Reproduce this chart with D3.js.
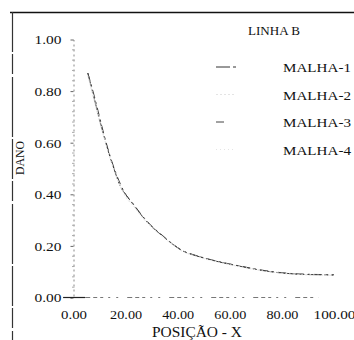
<!DOCTYPE html>
<html><head><meta charset="utf-8">
<script src="https://cdn.jsdelivr.net/npm/d3@7"></script>
<style>
html,body{margin:0;padding:0;background:#fff;}
svg text{font-family:"Liberation Serif","DejaVu Serif",serif;fill:#111;}
</style></head>
<body><svg id="c" width="354" height="340"></svg>
<script>
const xPos   = [5.5, 8, 10, 12, 14, 16, 18, 20, 23, 26, 30, 34, 38, 42, 46, 50, 55, 60, 65, 70, 75, 80, 85, 90, 95, 100];
const malha1 = [0.87, 0.77, 0.69, 0.615, 0.545, 0.485, 0.43, 0.40, 0.36, 0.32, 0.275, 0.24, 0.207, 0.180, 0.165, 0.153, 0.140, 0.129, 0.119, 0.109, 0.101, 0.095, 0.091, 0.089, 0.088, 0.087];
const malha2 = [0.86, 0.76, 0.68, 0.610, 0.540, 0.480, 0.43, 0.39, 0.355, 0.315, 0.272, 0.237, 0.205, 0.178, 0.163, 0.151, 0.138, 0.127, 0.117, 0.108, 0.100, 0.094, 0.090, 0.088, 0.087, 0.086];
const malha3 = [0.87, 0.78, 0.70, 0.620, 0.550, 0.490, 0.44, 0.40, 0.362, 0.322, 0.277, 0.242, 0.208, 0.181, 0.166, 0.154, 0.141, 0.130, 0.120, 0.110, 0.102, 0.096, 0.092, 0.090, 0.089, 0.088];
const malha4 = [0.86, 0.77, 0.69, 0.612, 0.542, 0.482, 0.43, 0.395, 0.357, 0.318, 0.273, 0.238, 0.206, 0.179, 0.164, 0.152, 0.139, 0.128, 0.118, 0.108, 0.100, 0.094, 0.090, 0.088, 0.087, 0.086];
const seriesNames = ["MALHA-1", "MALHA-2", "MALHA-3", "MALHA-4"];
const xTicks = [0, 20, 40, 60, 80, 100];
const yTicks = [0, 0.2, 0.4, 0.6, 0.8, 1.0];
const legendTitle = "LINHA  B";
const xTitle = "POSIÇÃO - X";
const yTitle = "DANO";

const svg = d3.select("#c");
const x = d3.scaleLinear().domain([0, 100]).range([73.5, 334]);
const y = d3.scaleLinear().domain([0, 1]).range([297.5, 39.5]);

// frame (scan border)
svg.append("line").attr("x1", 10).attr("x2", 354).attr("y1", 12.5).attr("y2", 12.5).attr("stroke", "#111").attr("stroke-width", 1.5);
svg.append("line").attr("x1", 12.5).attr("x2", 12.5).attr("y1", 12).attr("y2", 340).attr("stroke", "#333").attr("stroke-width", 1.2).attr("stroke-dasharray", "40,2,20,3,60,2");

// y axis
const ya = svg.append("g").attr("transform", "translate(73.5,0)")
  .call(d3.axisLeft(y).tickValues(yTicks).tickFormat(d3.format(".2f")).tickSize(3).tickPadding(9));
ya.select(".domain").attr("stroke", "#888").attr("stroke-dasharray", "2,3");
ya.selectAll(".tick line").attr("stroke", "#666");
ya.selectAll(".tick text").attr("font-size", 13.5).attr("fill", "#111")
  .attr("textLength", 27).attr("lengthAdjust", "spacingAndGlyphs");
// minor ticks
const minor = d3.range(0, 1.0001, 0.04).filter(v => !yTicks.some(t => Math.abs(t - v) < 1e-6));
svg.append("g").selectAll("line").data(minor).join("line")
  .attr("x1", 72).attr("x2", 74.5).attr("y1", d => y(d)).attr("y2", d => y(d))
  .attr("stroke", "#aaa");

// x axis
const xa = svg.append("g").attr("transform", "translate(0,297.5)")
  .call(d3.axisBottom(x).tickValues(xTicks).tickFormat(d3.format(".2f")).tickSize(0).tickPadding(12));
xa.select(".domain").remove();
xa.selectAll(".tick text").attr("font-size", 13.5).attr("fill", "#111")
  .attr("textLength", d => d === 0 ? 26 : (d === 100 ? 42 : 32)).attr("lengthAdjust", "spacingAndGlyphs");
xa.append("line").attr("x1", x(-4)).attr("x2", x(4.5)).attr("stroke", "#222").attr("stroke-width", 1.2);
xa.append("line").attr("x1", x(4.5)).attr("x2", x(94)).attr("stroke", "#777").attr("stroke-dasharray", "5,3,4,3,3,5,2,6,2,9");

// titles
svg.append("text").attr("x", 197).attr("y", 337).attr("text-anchor", "middle").attr("font-size", 14)
  .attr("textLength", 90).attr("lengthAdjust", "spacingAndGlyphs").text(xTitle);
svg.append("text").attr("transform", "translate(24,158) rotate(-90)").attr("text-anchor", "middle").attr("font-size", 12.5)
  .attr("textLength", 34).attr("lengthAdjust", "spacingAndGlyphs").text(yTitle);

// series
const data = [malha1, malha2, malha3, malha4];
const colors = ["#333", "#e4e4e4", "#444", "#e4e4e4"];
const dashes = ["14,3,4,3", "2,2", "8,4,2,4", "1,3"];
const line = d3.line().x((d, i) => x(xPos[i])).y(d => y(d)).curve(d3.curveMonotoneX);
svg.append("g").selectAll("path").data(data).join("path")
  .attr("d", line).attr("fill", "none")
  .attr("stroke", (d, i) => colors[i]).attr("stroke-width", 1)
  .attr("stroke-dasharray", (d, i) => dashes[i]);

// legend
svg.append("text").attr("x", 248).attr("y", 35).attr("font-size", 12.5)
  .attr("textLength", 52).attr("lengthAdjust", "spacingAndGlyphs").text(legendTitle);
const lg = svg.append("g").selectAll("g").data(seriesNames).join("g")
  .attr("transform", (d, i) => `translate(0,${72 + i * 27.5})`);
lg.append("line").attr("x1", 216).attr("x2", (d, i) => i === 2 ? 228 : 236).attr("y1", -5).attr("y2", -5)
  .attr("stroke", (d, i) => colors[i]).attr("stroke-dasharray", (d, i) => dashes[i]);
lg.append("text").attr("x", 283).attr("y", 0).attr("font-size", 13.5)
  .attr("textLength", 68).attr("lengthAdjust", "spacingAndGlyphs").text(d => d);
</script></body></html>
